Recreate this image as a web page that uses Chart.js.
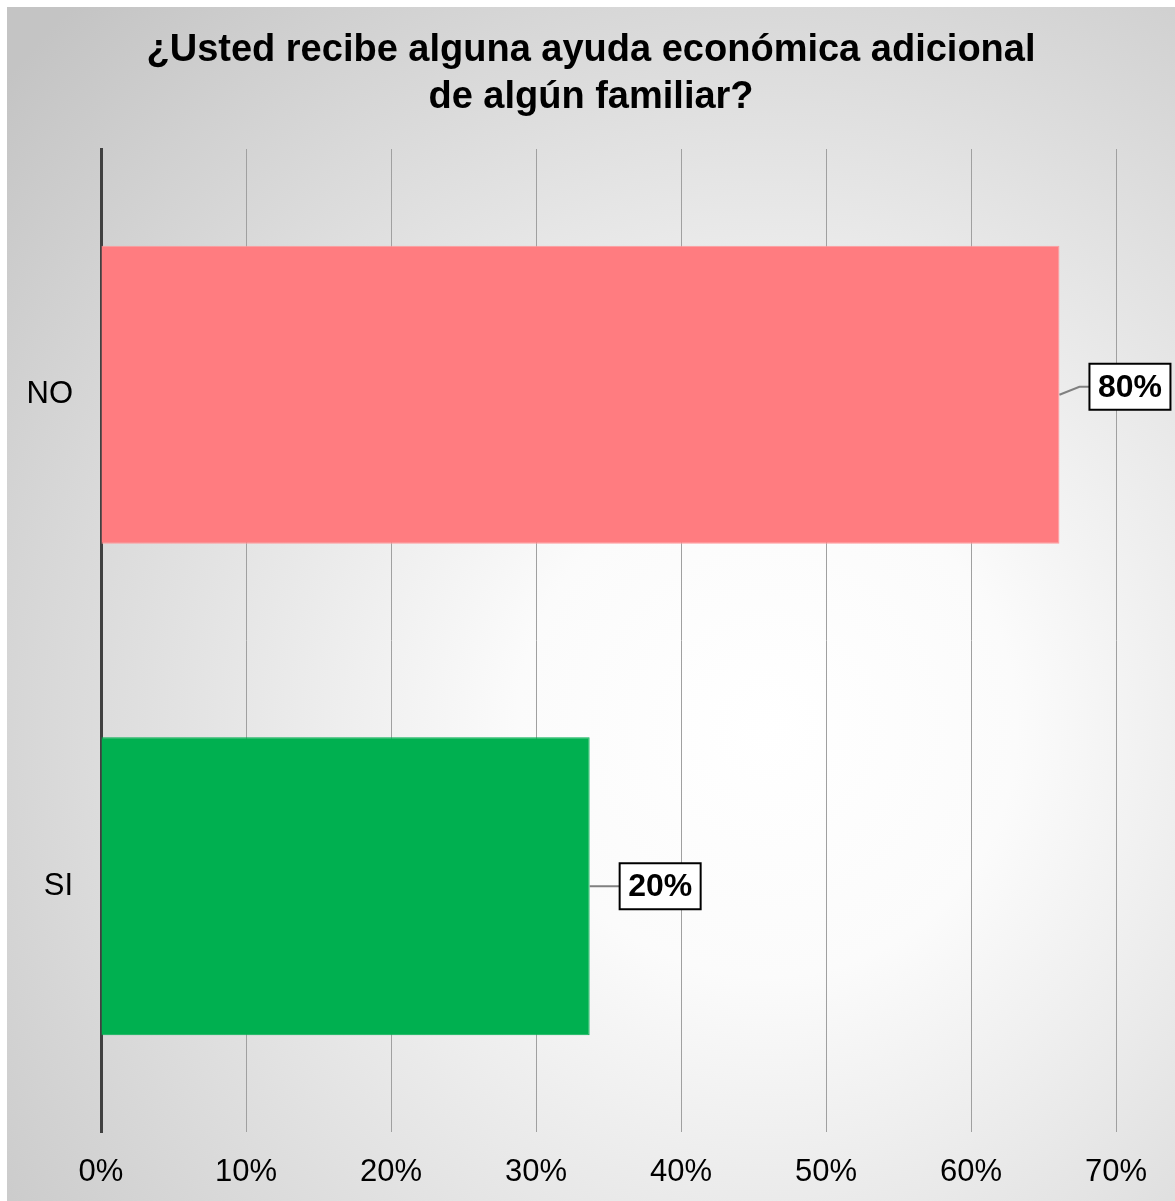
<!DOCTYPE html>
<html>
<head>
<meta charset="utf-8">
<script src="https://cdn.jsdelivr.net/npm/chart.js@4"></script>
<style>
  body { margin: 0; background: #fff; }
  #wrap { position: absolute; left: 7px; top: 7px; width: 1168px; height: 1194px; }
</style>
</head>
<body>
<div id="wrap"><canvas id="myChart"></canvas></div>
<script>
// data
const categories = ['NO', 'SI'];
const barValues = [66.1, 33.7];        // bar length on the axis (%)
const barLabels = ['80%', '20%'];      // text shown in the label boxes
const barColors = ['#FF7C80', '#00B050'];
const titleLines = ['¿Usted recibe alguna ayuda económica adicional', 'de algún familiar?'];

const FONT = '"Liberation Sans", Arial, sans-serif';

const bgPlugin = {
  id: 'bg',
  beforeDraw(chart) {
    const c = chart.ctx;
    const w = chart.width, h = chart.height;
    const g = c.createRadialGradient(760, 720, 0, 760, 720, 1000);
    g.addColorStop(0, '#ffffff');
    g.addColorStop(0.25, '#fbfbfb');
    g.addColorStop(1, '#c4c4c4');
    c.save();
    c.fillStyle = g;
    c.fillRect(0, 0, w, h);
    // title, centred on the whole chart box
    c.fillStyle = '#000';
    c.font = 'bold 38px ' + FONT;
    c.textAlign = 'center';
    c.textBaseline = 'middle';
    titleLines.forEach(function(t, i) {
      c.fillText(t, w / 2, 44 + i * 47);
    });
    c.restore();
  }
};

const labelPlugin = {
  id: 'boxLabels',
  afterDatasetsDraw(chart) {
    const c = chart.ctx;
    const meta = chart.getDatasetMeta(0);
    const yShift = [-8, 0]; // NO label sits a bit higher than its bar
    c.save();
    c.font = 'bold 32px ' + FONT;
    c.textAlign = 'center';
    c.textBaseline = 'middle';
    meta.data.forEach(function(bar, i) {
      const bx = bar.x + 30;
      const by = bar.y + yShift[i];
      const bw = 81, bh = 46;
      // leader line
      c.strokeStyle = '#808080';
      c.lineWidth = 2;
      c.beginPath();
      c.moveTo(bar.x, bar.y);
      if (yShift[i] !== 0) c.lineTo(bar.x + 20, by);
      c.lineTo(bx, by);
      c.stroke();
      // box
      c.fillStyle = '#ffffff';
      c.fillRect(bx, by - bh / 2, bw, bh);
      c.strokeStyle = '#000000';
      c.lineWidth = 2;
      c.strokeRect(bx, by - bh / 2, bw, bh);
      c.fillStyle = '#000000';
      c.fillText(barLabels[i], bx + bw / 2, by + 1);
    });
    c.restore();
  }
};

const ctx = document.getElementById('myChart').getContext('2d');
const myChart = new Chart(ctx, {
  type: 'bar',
  data: {
    labels: categories,
    datasets: [{
      data: barValues,
      backgroundColor: barColors,
      borderColor: ['#ff9a9d', '#00B050'],
      borderWidth: 1,
      borderSkipped: 'left',
      categoryPercentage: 1,
      barPercentage: 0.606
    }]
  },
  options: {
    indexAxis: 'y',
    responsive: true,
    maintainAspectRatio: false,
    animation: false,
    layout: { padding: { left: 0, right: 59, top: 142, bottom: 0 } },
    plugins: {
      legend: { display: false },
      tooltip: { enabled: false },
      title: { display: false }
    },
    scales: {
      x: {
        min: 0,
        max: 70,
        ticks: {
          stepSize: 10,
          color: '#000',
          padding: 22,
          font: { family: FONT, size: 31 },
          callback: function(v) { return v + '%'; }
        },
        grid: { color: '#a0a0a0', lineWidth: 1, drawTicks: false },
        border: { display: false },
        afterFit: function(scale) { scale.height = 69; }
      },
      y: {
        ticks: {
          color: '#000',
          padding: 28,
          font: { family: FONT, size: 31 }
        },
        grid: { display: false, drawTicks: false },
        border: { display: true, color: '#404040', width: 3 },
        afterFit: function(scale) { scale.width = 94; }
      }
    }
  },
  plugins: [bgPlugin, labelPlugin]
});
</script>
</body>
</html>
